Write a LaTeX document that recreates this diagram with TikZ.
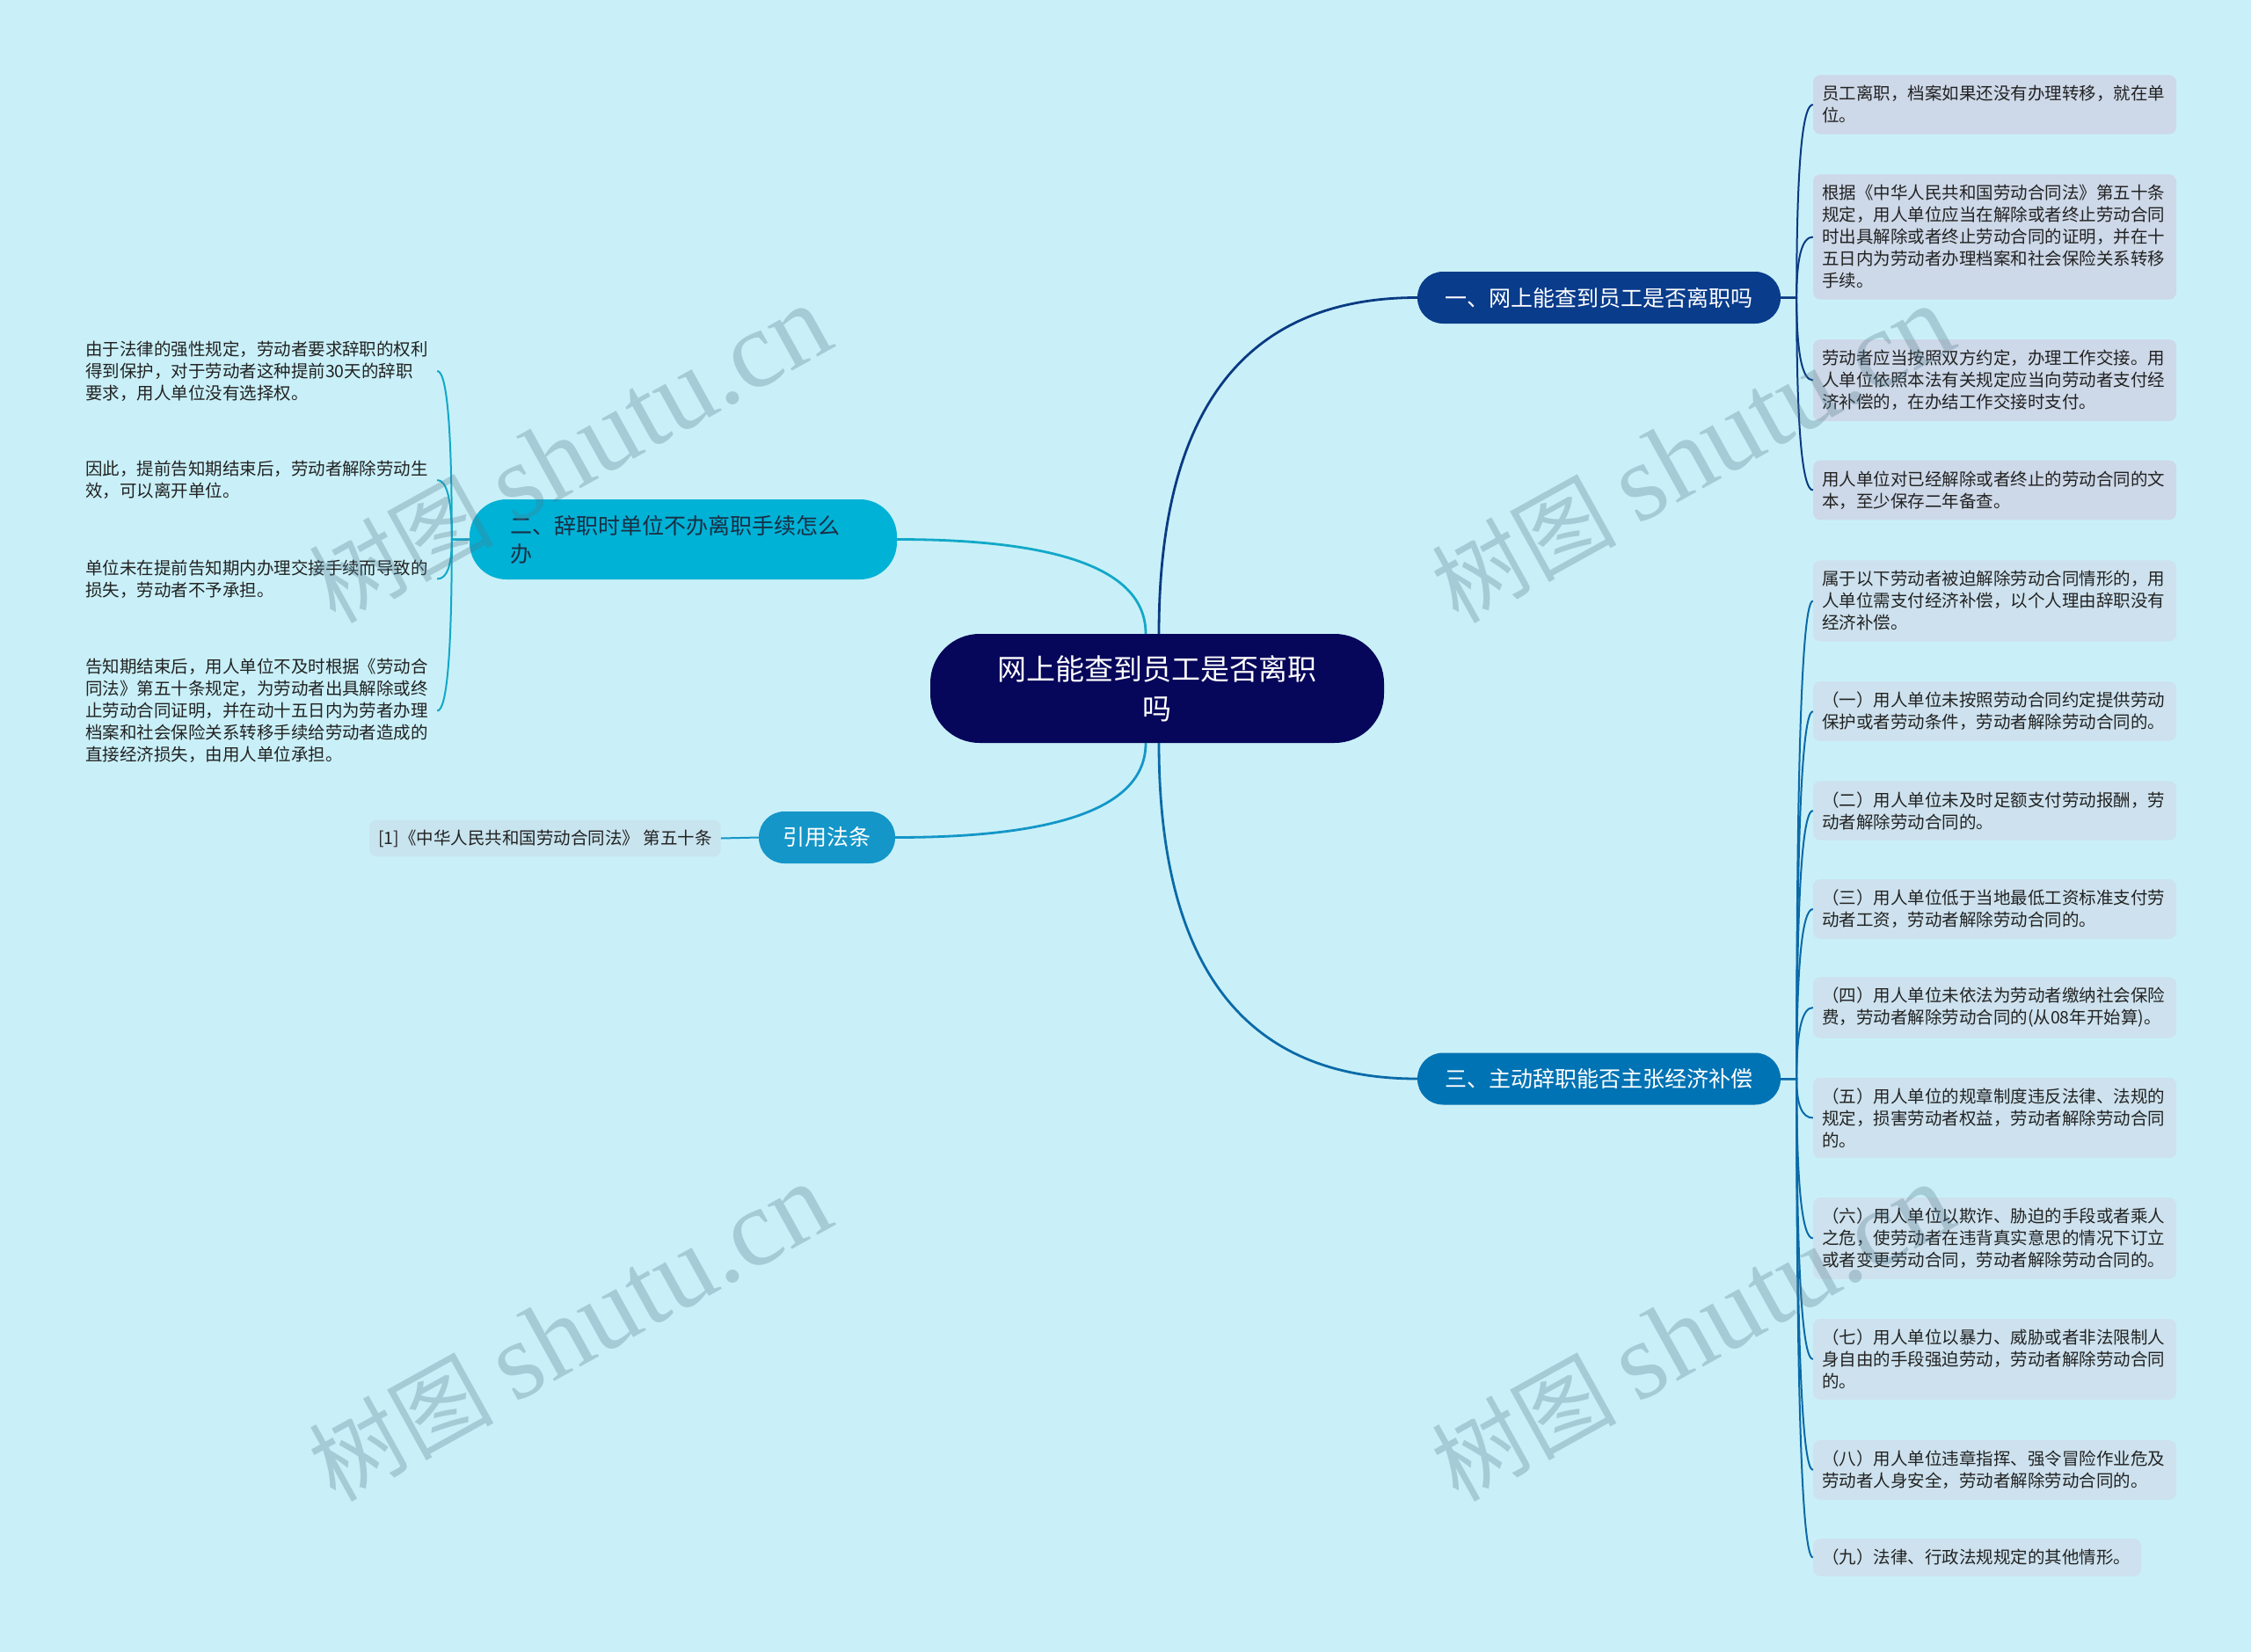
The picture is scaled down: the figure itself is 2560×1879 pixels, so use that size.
\documentclass[tikz,border=0pt]{standalone}
\usepackage{fontspec}
\setmainfont{Noto Sans CJK SC}
\newfontfamily\wmserif{Liberation Serif}
\usetikzlibrary{calc}
\definecolor{bgcyan}{HTML}{C9F0F8}
\definecolor{rootnavy}{HTML}{06065A}
\definecolor{onefill}{HTML}{0A3C8C}
\definecolor{twofill}{HTML}{00B2D6}
\definecolor{threefill}{HTML}{0073B4}
\definecolor{citefill}{HTML}{1496C8}
\definecolor{oneline}{HTML}{0A3A82}
\definecolor{twoline}{HTML}{12A8C8}
\definecolor{threeline}{HTML}{0B6AA8}
\definecolor{leafone}{HTML}{CDD8E8}
\definecolor{leafthree}{HTML}{CDE2EE}
\definecolor{leafcite}{HTML}{C8E4EE}
\definecolor{leafink}{HTML}{222222}
\definecolor{twoink}{HTML}{1A2E44}
\definecolor{wmgray}{HTML}{50788A}
\tikzstyle{root}=[fill=rootnavy,text=white,rounded corners=56pt,minimum width=516pt,minimum height=124pt,inner sep=0pt,align=center,font=\fontsize{33}{45}\selectfont]
\tikzstyle{branch}=[rounded corners=29pt,minimum width=413pt,minimum height=59pt,inner sep=0pt,text=white,font=\fontsize{25}{32}\selectfont]
\tikzstyle{leaf}=[rounded corners=8pt,text width=393pt,inner xsep=10pt,inner ysep=12pt,align=left,text=leafink,font=\fontsize{19.5}{25}\selectfont]
\tikzstyle{note}=[text width=398pt,inner xsep=2pt,inner ysep=2pt,align=left,text=leafink,font=\fontsize{19.5}{25}\selectfont]
\tikzstyle{limb}=[line width=2.8pt]
\tikzstyle{twig}=[line width=2pt]
\tikzstyle{bow}=[to path={.. controls ($(\tikztostart)!0.667!(\tikztostart |- \tikztotarget)$) and ($(\tikztotarget)!0.667!(\tikztostart |- \tikztotarget)$) .. (\tikztotarget)}]
\tikzstyle{wmtext}=[rotate=29,text=wmgray,text opacity=0.3,inner sep=0pt,font=\fontsize{105}{105}\selectfont]

\begin{document}
\begin{tikzpicture}[x=1pt,y=-1pt]
\fill[bgcyan] (0,0) rectangle (2560,1879);
\useasboundingbox (0,0) rectangle (2560,1879);

\node[root] (root) at (1316,783) {网上能查到员工是否离职\\吗};
\node[branch,fill=onefill] (one) at (1818.5,338.5) {一、网上能查到员工是否离职吗};
\node[branch,fill=threefill] (three) at (1818.5,1227) {三、主动辞职能否主张经济补偿};
\node[rounded corners=42pt,fill=twofill,text=twoink,minimum height=91pt,text width=394pt,inner xsep=46pt,inner ysep=0pt,align=left,font=\fontsize{25}{32}\selectfont] (two) at (777,613.5) {二、辞职时单位不办离职手续怎么\\办};
\node[branch,fill=citefill,minimum width=155pt] (cite) at (940.5,952.5) {引用法条};

\node[leaf,fill=leafone] (onea) at (2268.5,119) {员工离职，档案如果还没有办理转移，就在单\\位。};
\node[leaf,fill=leafone] (oneb) at (2268.5,269.5) {根据《中华人民共和国劳动合同法》第五十条\\规定，用人单位应当在解除或者终止劳动合同\\时出具解除或者终止劳动合同的证明，并在十\\五日内为劳动者办理档案和社会保险关系转移\\手续。};
\node[leaf,fill=leafone] (onec) at (2268.5,432.5) {劳动者应当按照双方约定，办理工作交接。用\\人单位依照本法有关规定应当向劳动者支付经\\济补偿的，在办结工作交接时支付。};
\node[leaf,fill=leafone] (oned) at (2268.5,557.5) {用人单位对已经解除或者终止的劳动合同的文\\本，至少保存二年备查。};

\node[leaf,fill=leafthree] (threea) at (2268.5,683.5) {属于以下劳动者被迫解除劳动合同情形的，用\\人单位需支付经济补偿，以个人理由辞职没有\\经济补偿。};
\node[leaf,fill=leafthree] (threeb) at (2268.5,809) {（一）用人单位未按照劳动合同约定提供劳动\\保护或者劳动条件，劳动者解除劳动合同的。};
\node[leaf,fill=leafthree] (threec) at (2268.5,922) {（二）用人单位未及时足额支付劳动报酬，劳\\动者解除劳动合同的。};
\node[leaf,fill=leafthree] (threed) at (2268.5,1034) {（三）用人单位低于当地最低工资标准支付劳\\动者工资，劳动者解除劳动合同的。};
\node[leaf,fill=leafthree] (threee) at (2268.5,1146) {（四）用人单位未依法为劳动者缴纳社会保险\\费，劳动者解除劳动合同的(从08年开始算)。};
\node[leaf,fill=leafthree] (threef) at (2268.5,1271.5) {（五）用人单位的规章制度违反法律、法规的\\规定，损害劳动者权益，劳动者解除劳动合同\\的。};
\node[leaf,fill=leafthree] (threeg) at (2268.5,1408.5) {（六）用人单位以欺诈、胁迫的手段或者乘人\\之危，使劳动者在违背真实意思的情况下订立\\或者变更劳动合同，劳动者解除劳动合同的。};
\node[leaf,fill=leafthree] (threeh) at (2268.5,1546) {（七）用人单位以暴力、威胁或者非法限制人\\身自由的手段强迫劳动，劳动者解除劳动合同\\的。};
\node[leaf,fill=leafthree] (threei) at (2268.5,1672) {（八）用人单位违章指挥、强令冒险作业危及\\劳动者人身安全，劳动者解除劳动合同的。};
\node[leaf,fill=leafthree,text width=353pt] (threej) at (2248.5,1771.5) {（九）法律、行政法规规定的其他情形。};

\node[note] (twoa) at (296,422) {由于法律的强性规定，劳动者要求辞职的权利\\得到保护，对于劳动者这种提前30天的辞职\\要求，用人单位没有选择权。};
\node[note] (twob) at (296,546) {因此，提前告知期结束后，劳动者解除劳动生\\效，可以离开单位。};
\node[note] (twoc) at (296,658.5) {单位未在提前告知期内办理交接手续而导致的\\损失，劳动者不予承担。};
\node[note] (twod) at (296,808.5) {告知期结束后，用人单位不及时根据《劳动合\\同法》第五十条规定，为劳动者出具解除或终\\止劳动合同证明，并在动十五日内为劳者办理\\档案和社会保险关系转移手续给劳动者造成的\\直接经济损失，由用人单位承担。};

\node[leaf,fill=leafcite,text width=,inner ysep=11pt] (citeleaf) at (620,953.5) {[1]《中华人民共和国劳动合同法》 第五十条};

\coordinate (rt1) at ([xshift=2pt]root.north);
\coordinate (rt2) at ([xshift=-13pt]root.north);
\coordinate (rb1) at ([xshift=2pt]root.south);
\coordinate (rb2) at ([xshift=-13pt]root.south);
\coordinate (j1) at ([xshift=18pt]one.east);
\coordinate (j2) at ([xshift=-20pt]two.west);
\coordinate (j3) at ([xshift=18pt]three.east);

\draw[limb,oneline] (rt1) to[bow] (one.west);
\draw[limb,twoline] (rt2) to[bow] (two.east);
\draw[limb,citefill] (rb2) to[bow] (cite.east);
\draw[limb,threeline] (rb1) to[bow] (three.west);

\draw[twig,oneline] (one.east) -- (j1) to[bow] (onea.west);
\draw[twig,oneline] (one.east) -- (j1) to[bow] (oneb.west);
\draw[twig,oneline] (one.east) -- (j1) to[bow] (onec.west);
\draw[twig,oneline] (one.east) -- (j1) to[bow] (oned.west);

\draw[twig,threeline] (three.east) -- (j3) to[bow] (threea.west);
\draw[twig,threeline] (three.east) -- (j3) to[bow] (threeb.west);
\draw[twig,threeline] (three.east) -- (j3) to[bow] (threec.west);
\draw[twig,threeline] (three.east) -- (j3) to[bow] (threed.west);
\draw[twig,threeline] (three.east) -- (j3) to[bow] (threee.west);
\draw[twig,threeline] (three.east) -- (j3) to[bow] (threef.west);
\draw[twig,threeline] (three.east) -- (j3) to[bow] (threeg.west);
\draw[twig,threeline] (three.east) -- (j3) to[bow] (threeh.west);
\draw[twig,threeline] (three.east) -- (j3) to[bow] (threei.west);
\draw[twig,threeline] (three.east) -- (j3) to[bow] (threej.west);

\draw[twig,twoline] (two.west) -- (j2) to[bow] (twoa.east);
\draw[twig,twoline] (two.west) -- (j2) to[bow] (twob.east);
\draw[twig,twoline] (two.west) -- (j2) to[bow] (twoc.east);
\draw[twig,twoline] (two.west) -- (j2) to[bow] (twod.east);

\draw[twig,citefill] (citeleaf.east) -- (cite.west);

\node[wmtext] (wm1) at (648,517) {树图 {\wmserif\fontsize{125}{125}\selectfont shutu.cn}};
\node[wmtext] (wm2) at (1925,517) {树图 {\wmserif\fontsize{125}{125}\selectfont shutu.cn}};
\node[wmtext] (wm3) at (648,1516) {树图 {\wmserif\fontsize{125}{125}\selectfont shutu.cn}};
\node[wmtext] (wm4) at (1925,1516) {树图 {\wmserif\fontsize{125}{125}\selectfont shutu.cn}};
\end{tikzpicture}
\end{document}
